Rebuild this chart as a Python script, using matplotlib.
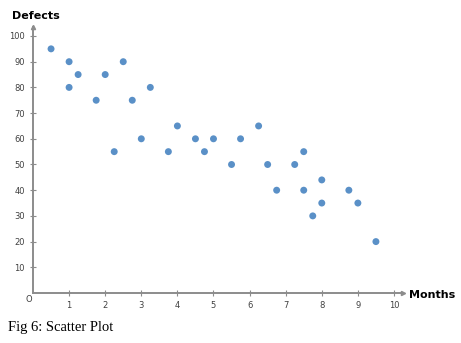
import matplotlib
matplotlib.use("Agg")
import matplotlib.pyplot as plt

months = [0.5, 1, 1, 1.25, 1.75, 2, 2.25, 2.5, 2.75, 3, 3.25, 3.75, 4, 4.5, 4.75,
          5, 5.5, 5.75, 6.25, 6.5, 6.75, 7.25, 7.5, 7.5, 7.75, 8, 8, 8.75, 9, 9.5]
defects = [95, 90, 80, 85, 75, 85, 55, 90, 75, 60, 80, 55, 65, 60, 55,
           60, 50, 60, 65, 50, 40, 50, 55, 40, 30, 44, 35, 40, 35, 20]
x_ticks = [1, 2, 3, 4, 5, 6, 7, 8, 9, 10]
y_ticks = [10, 20, 30, 40, 50, 60, 70, 80, 90, 100]

fig = plt.figure(figsize=(4.61, 3.43), dpi=100)
ax = fig.add_axes([33/461, 50/343, 370/461, 266/343])
ax.scatter(months, defects, s=25, color="#5a90c7", edgecolors="none", zorder=3)
ax.set_xlim(0, 10.25)
ax.set_ylim(0, 103.5)
for s in ["top", "right"]:
    ax.spines[s].set_visible(False)
for s in ["left", "bottom"]:
    ax.spines[s].set_color("#8c8c8c")
    ax.spines[s].set_linewidth(1.4)
ax.set_xticks(x_ticks)
ax.set_yticks(y_ticks)
ax.tick_params(direction="inout", length=4, width=0.8, color="#8c8c8c",
               labelsize=6, labelcolor="#404040", pad=4)
# arrows
ax.plot(1, 0, ">", transform=ax.transAxes, color="#8c8c8c", ms=3, clip_on=False)
ax.plot(0, 1, "^", transform=ax.transAxes, color="#8c8c8c", ms=3, clip_on=False)
fig.text(29/461, 1 - 300/343, "O", fontsize=6, color="#404040", ha="center", va="center")
fig.text(12/461, 1 - 16/343, "Defects", fontsize=8, fontweight="bold", ha="left", va="center")
fig.text(409/461, 1 - 295/343, "Months", fontsize=8, fontweight="bold", ha="left", va="center")
fig.text(8/461, 1 - 327/343, "Fig 6: Scatter Plot", fontsize=10.5, family="Liberation Serif",
         ha="left", va="center")
fig.savefig("out.png", dpi=100)
